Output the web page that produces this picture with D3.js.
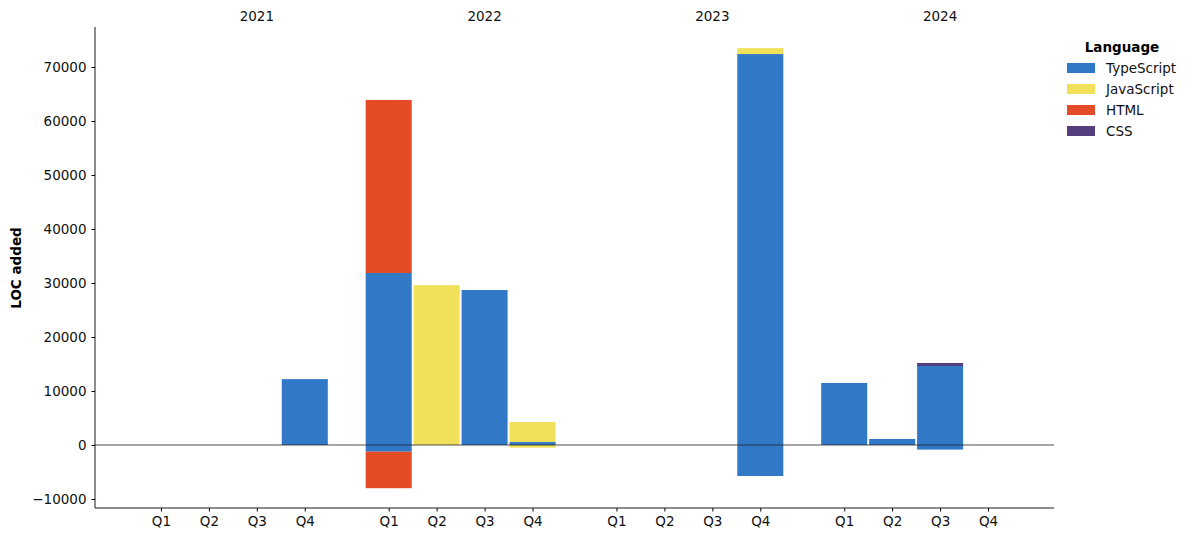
<!DOCTYPE html>
<html><head><meta charset="utf-8">
<script src="https://cdn.jsdelivr.net/npm/d3@7"></script>
<style>body{margin:0;background:#fff}svg{font-family:"DejaVu Sans",sans-serif}</style>
</head><body><svg id="c" width="1194" height="542"></svg>
<script>
const years = ["2021","2022","2023","2024"];
const quarters = ["Q1","Q2","Q3","Q4"];
const languages = ["TypeScript","JavaScript","HTML","CSS"];
const colors = ["#3178c6","#f1e05a","#e34c26","#563d7c"];
// values per period (year-major, Q1..Q4), positive = added
const tsPos   = [0,0,0,12200, 31850,0,28700,550, 0,0,0,72400, 11480,1110,14630,0];
const jsPos   = [0,0,0,0,     0,29600,0,3700,  0,0,0,1100,  0,0,0,0];
const htmlPos = [0,0,0,0,     32050,0,0,0,     0,0,0,0,     0,0,0,0];
const cssPos  = [0,0,0,0,     0,0,0,0,         0,0,0,0,     0,0,560,0];
const tsNeg   = [0,0,0,0,     -1240,0,0,0,     0,0,0,-5740, 0,0,-850,0];
const jsNeg   = [0,0,0,0,     0,0,0,-500,      0,0,0,0,     0,0,0,0];
const htmlNeg = [0,0,0,0,     -6760,0,0,0,     0,0,0,0,     0,0,0,0];
const cssNeg  = [0,0,0,0,     0,0,0,0,         0,0,0,0,     0,0,0,0];
const yTicks = [-10000,0,10000,20000,30000,40000,50000,60000,70000];

const pos = [tsPos,jsPos,htmlPos,cssPos];
const neg = [tsNeg,jsNeg,htmlNeg,cssNeg];
const svg = d3.select("#c");
const L=95,R=1054,T=27,B=508;
const FS=13.5;
const periods=[];
years.forEach((y,yi)=>quarters.forEach((q,qi)=>periods.push({y,q,p:yi*4.75+qi,i:yi*4+qi})));
const x = d3.scaleLinear().domain([-1.375,18.625]).range([L,R]);
const y = d3.scaleLinear().domain([-11667,77407]).range([B,T]);
const bw = x(0.96)-x(0);

const g = svg.append("g");
periods.forEach(per=>{
  let up=0, dn=0;
  languages.forEach((lang,li)=>{
    const v=pos[li][per.i];
    if(v>0){ g.append("rect").attr("x",x(per.p)-bw/2).attr("width",bw)
      .attr("y",y(up+v)).attr("height",y(up)-y(up+v)).attr("fill",colors[li]); up+=v; }
    const n=neg[li][per.i];
    if(n<0){ g.append("rect").attr("x",x(per.p)-bw/2).attr("width",bw)
      .attr("y",y(dn)).attr("height",y(dn+n)-y(dn)).attr("fill",colors[li]); dn+=n; }
  });
});
// zero line
svg.append("line").attr("x1",L).attr("x2",R).attr("y1",y(0)).attr("y2",y(0))
  .attr("stroke","#222").attr("stroke-width",0.8);

// axes
const ya = svg.append("g").attr("transform",`translate(${L},0)`)
  .call(d3.axisLeft(y).tickValues(yTicks).tickFormat(d=>d<0?"\u2212"+Math.abs(d):d).tickSizeOuter(0).tickSize(3.5).tickPadding(5));
ya.select(".domain").remove();
svg.append("line").attr("x1",L).attr("x2",L).attr("y1",T).attr("y2",B).attr("stroke","#000").attr("stroke-width",0.9);
const xa = svg.append("g").attr("transform",`translate(0,${B})`)
  .call(d3.axisBottom(x).tickValues(periods.map(p=>p.p)).tickFormat((d,i)=>periods[i].q).tickSizeOuter(0).tickSize(3.5).tickPadding(5));
xa.select(".domain").remove();
svg.append("line").attr("x1",L).attr("x2",R).attr("y1",B).attr("y2",B).attr("stroke","#000").attr("stroke-width",0.9);
svg.selectAll(".tick text").attr("font-size",FS).attr("font-family","DejaVu Sans").attr("fill","#111");
svg.selectAll(".tick line").attr("stroke","#000");

// year labels
years.forEach((yr,yi)=>svg.append("text").attr("x",x(yi*4.75+2)).attr("y",21)
  .attr("text-anchor","middle").attr("font-size",FS).attr("fill","#111").text(yr));

// y label
svg.append("text").attr("transform",`translate(21,268) rotate(-90)`).attr("text-anchor","middle")
  .attr("font-size",FS).attr("font-weight","bold").text("LOC added");

// legend
const lg = svg.append("g");
lg.append("text").attr("x",1122).attr("y",52).attr("text-anchor","middle").attr("font-size",FS).attr("font-weight","bold").text("Language");
languages.forEach((lang,i)=>{
  const yy=68+i*21;
  lg.append("rect").attr("x",1067).attr("y",yy-5).attr("width",28).attr("height",10).attr("fill",colors[i]);
  lg.append("text").attr("x",1106).attr("y",yy+5).attr("font-size",FS).attr("fill","#111").text(lang);
});
</script></body></html>
